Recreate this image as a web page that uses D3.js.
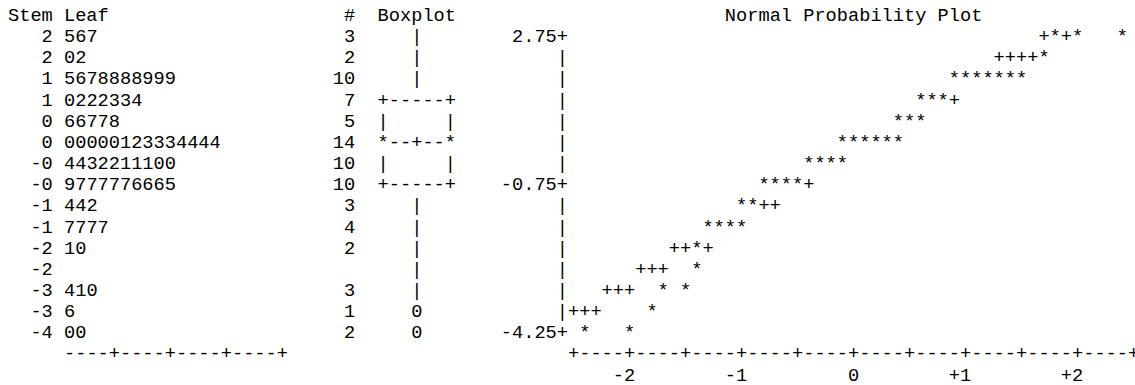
<!DOCTYPE html>
<html>
<head>
<meta charset="UTF-8">
<title>Stem Leaf / Boxplot / Normal Probability Plot</title>
<script src="https://cdnjs.cloudflare.com/ajax/libs/d3/7.8.5/d3.min.js"></script>
<style>
  body { margin: 0; padding: 0; background: #fff; }
  svg text { font-family: "Liberation Mono", "DejaVu Sans Mono", monospace; font-size: 18.67px; fill: #000; white-space: pre; }
</style>
</head>
<body>
<div id="chart"></div>
<script>
// stem and leaf display
const stems  = ["2", "2", "1", "1", "0", "0", "-0", "-0", "-1", "-1", "-2", "-2", "-3", "-3", "-4"];
const leaves = ["567", "02", "5678888999", "0222334", "66778", "00000123334444", "4432211100",
                "9777776665", "442", "7777", "10", "", "410", "6", "00"];
const counts = [3, 2, 10, 7, 5, 14, 10, 10, 3, 4, 2, null, 3, 1, 2];
const leafTicks = [5, 10, 15, 20];

// boxplot (values on the same scale as the stem rows)
const whiskerHi = 2.75, q3 = 1.25, median = 0.25, q1 = -0.75, whiskerLo = -3.25;
const outliers = [-3.75, -4.25];

// normal probability plot: observed points (*) and reference line (+)
const starX = [1.8, 2.0, 2.4, 1.7, 0.9, 1.0, 1.1, 1.2, 1.3, 1.4, 1.5, 0.6, 0.7, 0.8, 0.4, 0.5, 0.6,
               -0.1, 0.0, 0.1, 0.2, 0.3, 0.4, -0.4, -0.3, -0.2, -0.1, -0.8, -0.7, -0.6, -0.5,
               -1.0, -0.9, -1.3, -1.2, -1.1, -1.0, -1.4, -1.4, -1.7, -1.5, -1.8, -2.4, -2.0];
const starY = [2.75, 2.75, 2.75, 2.25, 1.75, 1.75, 1.75, 1.75, 1.75, 1.75, 1.75, 1.25, 1.25, 1.25, 0.75, 0.75, 0.75,
               0.25, 0.25, 0.25, 0.25, 0.25, 0.25, -0.25, -0.25, -0.25, -0.25, -0.75, -0.75, -0.75, -0.75,
               -1.25, -1.25, -1.75, -1.75, -1.75, -1.75, -2.25, -2.75, -3.25, -3.25, -3.75, -4.25, -4.25];
const refX = [1.7, 1.9, 1.3, 1.4, 1.5, 1.6, 0.9, -0.4, -0.8, -0.7, -1.6, -1.5, -1.3,
              -1.9, -1.8, -1.7, -2.2, -2.1, -2.0, -2.5, -2.4, -2.3];
const refY = [2.75, 2.75, 2.25, 2.25, 2.25, 2.25, 1.25, -0.75, -1.25, -1.25, -2.25, -2.25, -2.25,
              -2.75, -2.75, -2.75, -3.25, -3.25, -3.25, -3.75, -3.75, -3.75];
const xTicks = [-2.5, -2, -1.5, -1, -0.5, 0, 0.5, 1, 1.5, 2, 2.5];
const xLabelVals = [-2, -1, 0, 1, 2];
const xLabels = ["-2", "-1", "0", "+1", "+2"];
const yTickVals = [2.75, -0.75, -4.25];
const yTickLabels = ["2.75", "-0.75", "-4.25"];

const width = 1135, height = 385;
const cw = 11.2, lh = 21.15;
// character grid: column left edge, row baseline
const colX = d3.scaleLinear().domain([0, 1]).range([8.0, 8.0 + cw]);
const rowY = d3.scaleLinear().domain([0, 1]).range([21.0, 21.0 + lh]);

const xs = d3.scaleLinear().domain([-2.5, 2.5]).range([colX(50) + cw / 2, colX(100) + cw / 2]);
const ys = d3.scaleLinear().domain([2.75, -4.25]).range([rowY(1), rowY(15)]);

const svg = d3.select("#chart").append("svg")
  .attr("width", width)
  .attr("height", height);

const put = (str, x, y, anchor) => svg.append("text")
  .attr("x", x).attr("y", y)
  .attr("text-anchor", anchor || "start")
  .text(str);

// headers
put("Stem Leaf", colX(0), rowY(0));
put("#", colX(31), rowY(0), "end");
put("Boxplot", colX(33), rowY(0));
put("Normal Probability Plot", xs(0), rowY(0), "middle");

// stem and leaf rows
svg.selectAll(".stem").data(stems).enter().append("text")
  .attr("class", "stem")
  .attr("x", colX(4)).attr("y", (d, i) => rowY(i + 1))
  .attr("text-anchor", "end")
  .text(d => d);
svg.selectAll(".leaf").data(leaves).enter().append("text")
  .attr("class", "leaf")
  .attr("x", colX(5)).attr("y", (d, i) => rowY(i + 1))
  .text(d => d);
svg.selectAll(".count").data(counts).enter().append("text")
  .attr("class", "count")
  .attr("x", colX(31)).attr("y", (d, i) => rowY(i + 1))
  .attr("text-anchor", "end")
  .text(d => d == null ? "" : d);

// leaf axis
const leafCol = d3.scaleLinear().domain([1, 2]).range([colX(5), colX(6)]);
let leafAxis = "";
for (let k = 1; k <= d3.max(leafTicks); k++) leafAxis += leafTicks.includes(k) ? "+" : "-";
put(leafAxis, leafCol(1), rowY(stems.length + 1));

// boxplot
const bx = colX(36) + cw / 2;
const rowVals = stems.map((d, i) => ys.invert(rowY(i + 1)));
const same = (a, b) => Math.abs(a - b) < 1e-6;
rowVals.forEach(v => {
  const y = ys(v);
  if (same(v, q3) || same(v, q1)) put("+-----+", bx, y, "middle");
  else if (same(v, median)) put("*--+--*", bx, y, "middle");
  else if (v < q3 && v > q1) { put("|", bx - 3 * cw, y, "middle"); put("|", bx + 3 * cw, y, "middle"); }
  else if (v <= whiskerHi && v >= whiskerLo) put("|", bx, y, "middle");
});
outliers.forEach(v => put("0", bx, ys(v), "middle"));

// normal plot vertical axis
const axX = colX(49) + cw / 2;
rowVals.forEach(v => {
  const k = yTickVals.findIndex(t => same(t, v));
  if (k >= 0) put(yTickLabels[k] + "+", colX(50), ys(v), "end");
  else put("|", axX, ys(v), "middle");
});

// normal plot horizontal axis
const axY = rowY(stems.length + 1);
xTicks.forEach((t, i) => {
  put("+", xs(t), axY, "middle");
  if (i < xTicks.length - 1) put("----", xs(t) + cw / 2, axY);
});
svg.selectAll(".xlab").data(xLabelVals).enter().append("text")
  .attr("class", "xlab")
  .attr("x", d => xs(d) + cw / 2).attr("y", rowY(stems.length + 2))
  .attr("text-anchor", "end")
  .text((d, i) => xLabels[i]);

// reference line then observations
svg.selectAll(".ref").data(refX).enter().append("text")
  .attr("class", "ref")
  .attr("x", d => xs(d)).attr("y", (d, i) => ys(refY[i]))
  .attr("text-anchor", "middle")
  .text("+");
svg.selectAll(".obs").data(starX).enter().append("text")
  .attr("class", "obs")
  .attr("x", d => xs(d)).attr("y", (d, i) => ys(starY[i]))
  .attr("text-anchor", "middle")
  .text("*");
</script>
</body>
</html>
